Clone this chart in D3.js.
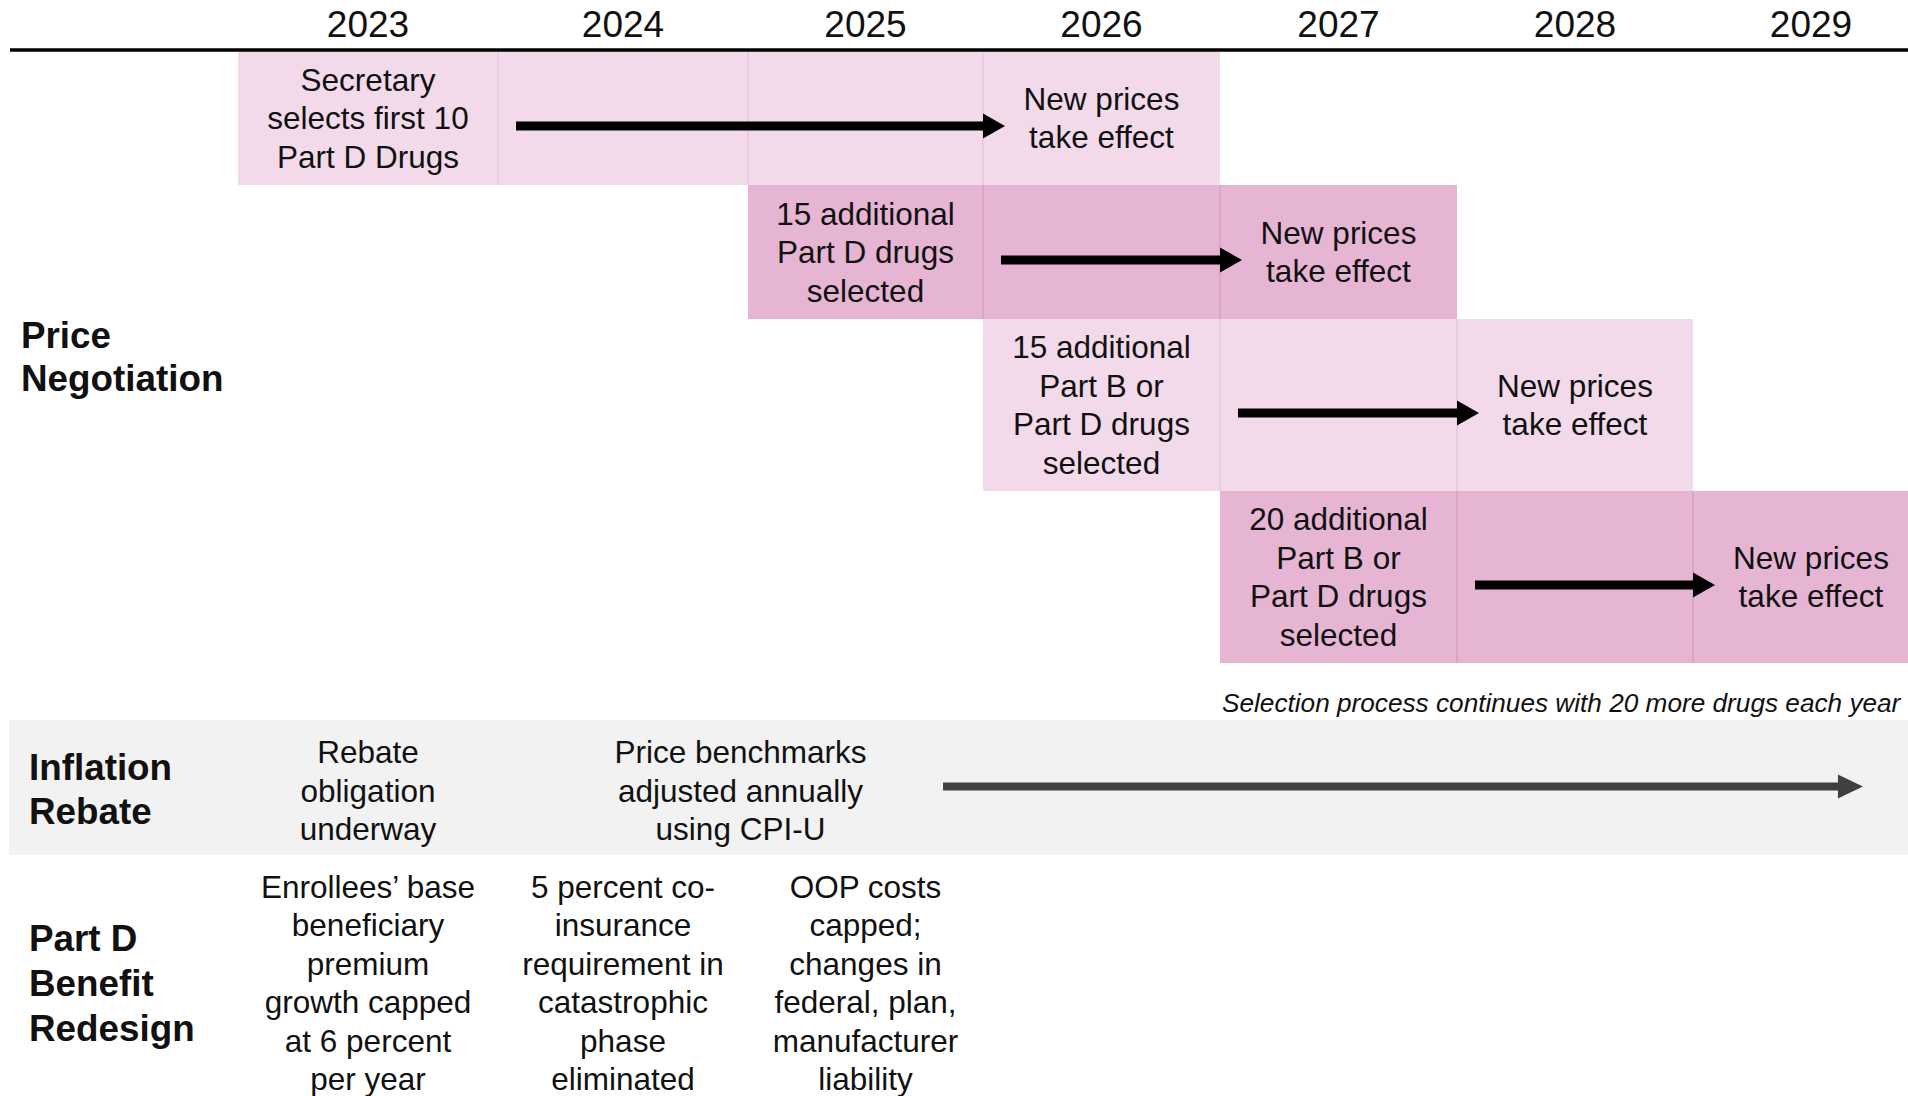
<!DOCTYPE html>
<html>
<head>
<meta charset="utf-8">
<script src="https://cdn.jsdelivr.net/npm/d3@7"></script>
<style>
  html, body { margin: 0; padding: 0; background: #fff; }
  svg { display: block; font-family: "Liberation Sans", Arial, sans-serif; }
</style>
</head>
<body>
<div id="chart"></div>
<script>
//Datos del gráfico
const years = [2023, 2024, 2025, 2026, 2027, 2028, 2029];

//Negociación de precios: año de selección, año de entrada en vigor, tono
const negotiationStart = [2023, 2025, 2026, 2027];
const negotiationEffect = [2026, 2027, 2028, 2029];
const negotiationShade = ['light', 'dark', 'light', 'dark'];
const negotiationText = [
    ['Secretary', 'selects first 10', 'Part D Drugs'],
    ['15 additional', 'Part D drugs', 'selected'],
    ['15 additional', 'Part B or', 'Part D drugs', 'selected'],
    ['20 additional', 'Part B or', 'Part D drugs', 'selected']
];
const effectText = ['New prices', 'take effect'];
const footnote = 'Selection process continues with 20 more drugs each year';

//Reembolso por inflación
const inflationFrom = [2023, 2024];
const inflationTo = [2024, 2026];
const inflationText = [
    ['Rebate', 'obligation', 'underway'],
    ['Price benchmarks', 'adjusted annually', 'using CPI-U']
];
const inflationArrow = [2025.83, 2029.72];

//Rediseño Parte D
const redesignYear = [2023, 2024, 2025];
const redesignText = [
    ['Enrollees\u2019 base', 'beneficiary', 'premium', 'growth capped', 'at 6 percent', 'per year'],
    ['5 percent co-', 'insurance', 'requirement in', 'catastrophic', 'phase', 'eliminated'],
    ['OOP costs', 'capped;', 'changes in', 'federal, plan,', 'manufacturer', 'liability']
];

const rowLabels = [['Price', 'Negotiation'], ['Inflation', 'Rebate'], ['Part D', 'Benefit', 'Redesign']];

//Colores fijos
const COLOR_LIGHT = '#F2DAEB',
COLOR_DARK = '#E6B5D4',
COLOR_LIGHT_LINE = '#EAC6DF',
COLOR_DARK_LINE = '#D9A0C5',
COLOR_GREY = '#F2F2F2',
COLOR_TEXT = '#111111';

const width = 1908, height = 1096;
const colWidths = [260, 250, 235, 237, 237, 236, 236];
const left = 238;
const lineH = 38.5;

let svg = d3.select('#chart')
    .append('svg')
    .attr('width', width)
    .attr('height', height);

//Escala horizontal por años (columnas de ancho desigual)
let edges = [left].concat(Array.from(d3.cumsum(colWidths), function(d) { return left + d; }));
let x = d3.scaleLinear()
    .domain(years.concat([2030]))
    .range(edges);
let xCenter = function(y) { return (x(y) + x(y + 1)) / 2; };

//Texto multilínea centrado
function multiline(g, lines, cx, cy, opts) {
    let lh = opts.lineH || lineH;
    let t = g.append('text')
        .attr('text-anchor', opts.anchor || 'middle')
        .attr('font-size', opts.size || 31.5)
        .attr('font-weight', opts.weight || 400)
        .attr('fill', COLOR_TEXT);
    lines.forEach(function(l, i) {
        t.append('tspan')
            .attr('x', cx)
            .attr('y', cy + (i - (lines.length - 1) / 2) * lh)
            .attr('dy', '0.35em')
            .text(l);
    });
    return t;
}

function arrow(g, x0, x1, y, color, shaft, headW, headH) {
    g.append('rect')
        .attr('x', x0).attr('y', y - shaft / 2)
        .attr('width', x1 - headW - x0 + 1).attr('height', shaft)
        .attr('fill', color);
    g.append('path')
        .attr('d', d3.line()([[x1 - headW, y - headH / 2], [x1, y], [x1 - headW, y + headH / 2]]) + 'Z')
        .attr('fill', color);
}

//Cabecera
svg.append('g')
    .selectAll('text')
    .data(years)
    .enter()
    .append('text')
    .attr('x', function(d) { return xCenter(d); })
    .attr('y', 24)
    .attr('dy', '0.35em')
    .attr('text-anchor', 'middle')
    .attr('font-size', 37)
    .attr('fill', COLOR_TEXT)
    .text(function(d) { return d; });

//Filas de negociación
let rowTop = 51;
let rowsY = [];
negotiationText.forEach(function(lines) {
    let h = lines.length * 38 + 20;
    rowsY.push({ top: rowTop, h: h });
    rowTop += h;
});

let neg = svg.append('g');
negotiationStart.forEach(function(start, i) {
    let g = neg.append('g').attr('class', 'fila fila_' + i);
    let row = rowsY[i];
    let cy = row.top + row.h / 2;
    let cols = d3.range(start, negotiationEffect[i] + 1);
    let fill = negotiationShade[i] == 'dark' ? COLOR_DARK : COLOR_LIGHT;
    let stroke = negotiationShade[i] == 'dark' ? COLOR_DARK_LINE : COLOR_LIGHT_LINE;

    g.selectAll('rect.celda')
        .data(cols)
        .enter()
        .append('rect')
        .attr('class', 'celda')
        .attr('x', function(d) { return x(d); })
        .attr('y', row.top)
        .attr('width', function(d) { return x(d + 1) - x(d); })
        .attr('height', row.h)
        .attr('fill', fill);

    g.selectAll('line')
        .data(cols.slice(1))
        .enter()
        .append('line')
        .attr('x1', function(d) { return x(d); })
        .attr('x2', function(d) { return x(d); })
        .attr('y1', row.top)
        .attr('y2', row.top + row.h)
        .attr('stroke', stroke)
        .attr('stroke-width', 1.5);

    multiline(g, negotiationText[i], xCenter(start), cy, {});
    multiline(g, effectText, xCenter(negotiationEffect[i]), cy, {});
    arrow(g, x(start + 1) + 18, x(negotiationEffect[i]) + 22, cy + 8, '#000', 9, 22, 25);
});

//Línea de cabecera
svg.append('line')
    .attr('x1', 10).attr('x2', width)
    .attr('y1', 50).attr('y2', 50)
    .attr('stroke', '#000')
    .attr('stroke-width', 3.5);

//Nota (ajustada para que quepa hasta el borde)
svg.append('text')
    .attr('x', x(2027) + 2)
    .attr('y', 703)
    .attr('dy', '0.35em')
    .attr('font-size', 26.2)
    .attr('font-style', 'italic')
    .attr('fill', COLOR_TEXT)
    .text(footnote);

//Banda de inflación
let bandTop = 720, bandH = 135;
let inf = svg.append('g');
inf.append('rect')
    .attr('x', 9).attr('y', bandTop)
    .attr('width', width - 9).attr('height', bandH)
    .attr('fill', COLOR_GREY);
inflationText.forEach(function(lines, i) {
    multiline(inf, lines, (x(inflationFrom[i]) + x(inflationTo[i])) / 2, bandTop + bandH / 2 + 3, {});
});
arrow(inf, x(inflationArrow[0]), x(inflationArrow[1]), bandTop + bandH / 2 - 1, '#404040', 8, 25, 24);

//Rediseño Parte D
let redCy = 983;
let red = svg.append('g');
redesignText.forEach(function(lines, i) {
    multiline(red, lines, xCenter(redesignYear[i]), redCy, {});
});

//Etiquetas de filas
let labelPos = [
    { x: 21, y: (rowsY[0].top + rowTop) / 2, lh: 43 },
    { x: 29, y: bandTop + bandH / 2 + 2, lh: 44 },
    { x: 29, y: redCy, lh: 45 }
];
rowLabels.forEach(function(lines, i) {
    multiline(svg, lines, labelPos[i].x, labelPos[i].y, { anchor: 'start', size: 36.8, weight: 700, lineH: labelPos[i].lh });
});
</script>
</body>
</html>
